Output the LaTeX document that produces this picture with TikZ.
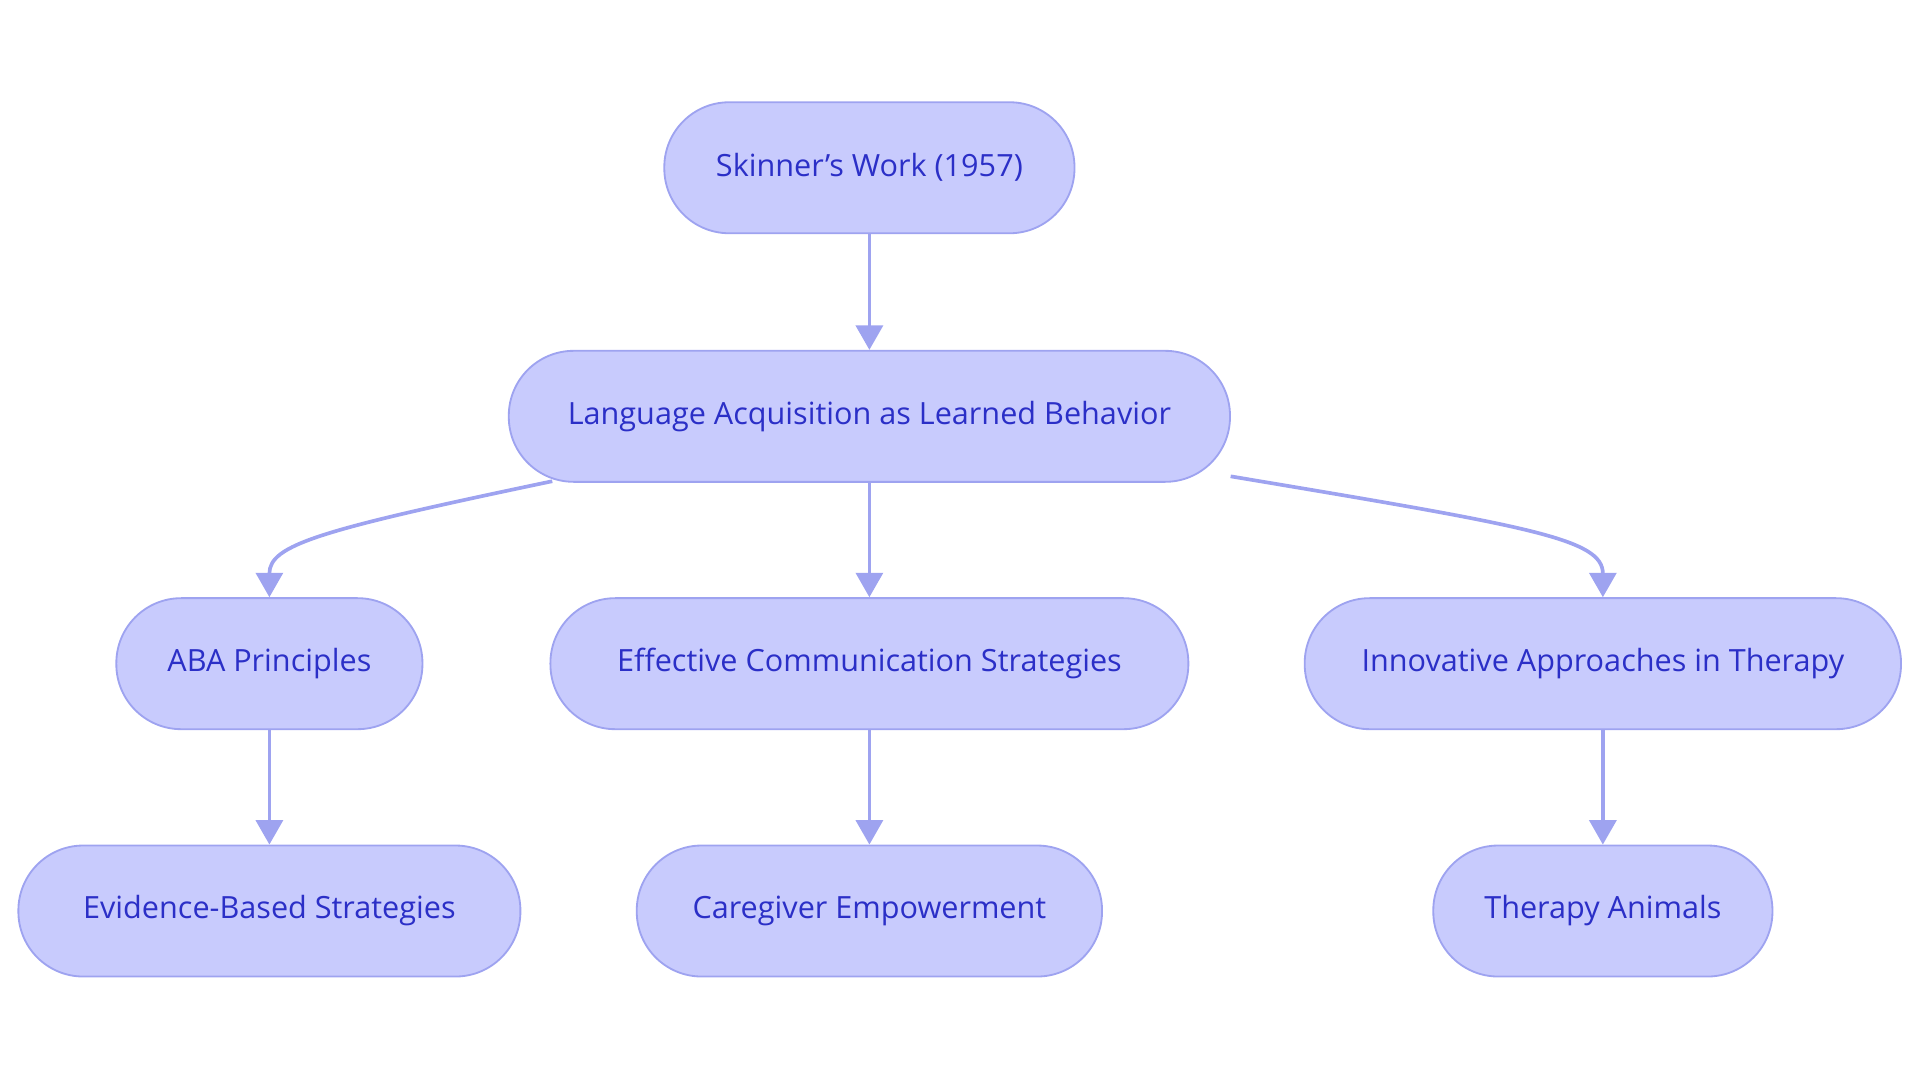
\documentclass[tikz,border=0pt]{standalone}
\usepackage{fontspec}
\setmainfont{Open Sans}
\usetikzlibrary{arrows.meta}
\definecolor{boxfill}{HTML}{C8CBFD}
\definecolor{boxline}{HTML}{9EA3F0}
\definecolor{boxtext}{HTML}{2B2FC7}
\tikzset{
  pill/.style={draw=boxline, line width=1.5pt, fill=boxfill, rounded corners=53pt,
    minimum height=107pt, text=boxtext, font=\fontsize{25}{30}\selectfont, inner sep=0pt},
  conn/.style={draw=boxline, line width=3pt, -{Triangle[width=22pt,length=20pt]}}
}
\begin{document}
\begin{tikzpicture}[x=1pt,y=-1pt]
\useasboundingbox (0,0) rectangle (1568,885);
\node[pill, minimum width=335pt] (sk) at (710,137) {Skinner’s Work (1957)};
\node[pill, minimum width=589pt] (la) at (710,340) {Language Acquisition as Learned Behavior};
\node[pill, minimum width=250pt] (aba) at (220,542) {ABA Principles};
\node[pill, minimum width=521pt] (ef) at (710,542) {Effective Communication Strategies};
\node[pill, minimum width=487pt] (in) at (1309,542) {Innovative Approaches in Therapy};
\node[pill, minimum width=410pt] (ev) at (220,744) {Evidence-Based Strategies};
\node[pill, minimum width=380pt] (ca) at (710,744) {Caregiver Empowerment};
\node[pill, minimum width=277pt] (th) at (1309,744) {Therapy Animals};
\coordinate (lal) at (451,393);
\coordinate (lar) at (1005,389);
\draw[conn] (sk) -- (la);
\draw[conn] (la) -- (ef);
\draw[conn] (lal) .. controls (260,433) and (220,445) .. (aba.north);
\draw[conn] (lar) .. controls (1250,430) and (1309,440) .. (in.north);
\draw[conn] (aba) -- (ev);
\draw[conn] (ef) -- (ca);
\draw[conn] (in) -- (th);
\end{tikzpicture}
\end{document}
